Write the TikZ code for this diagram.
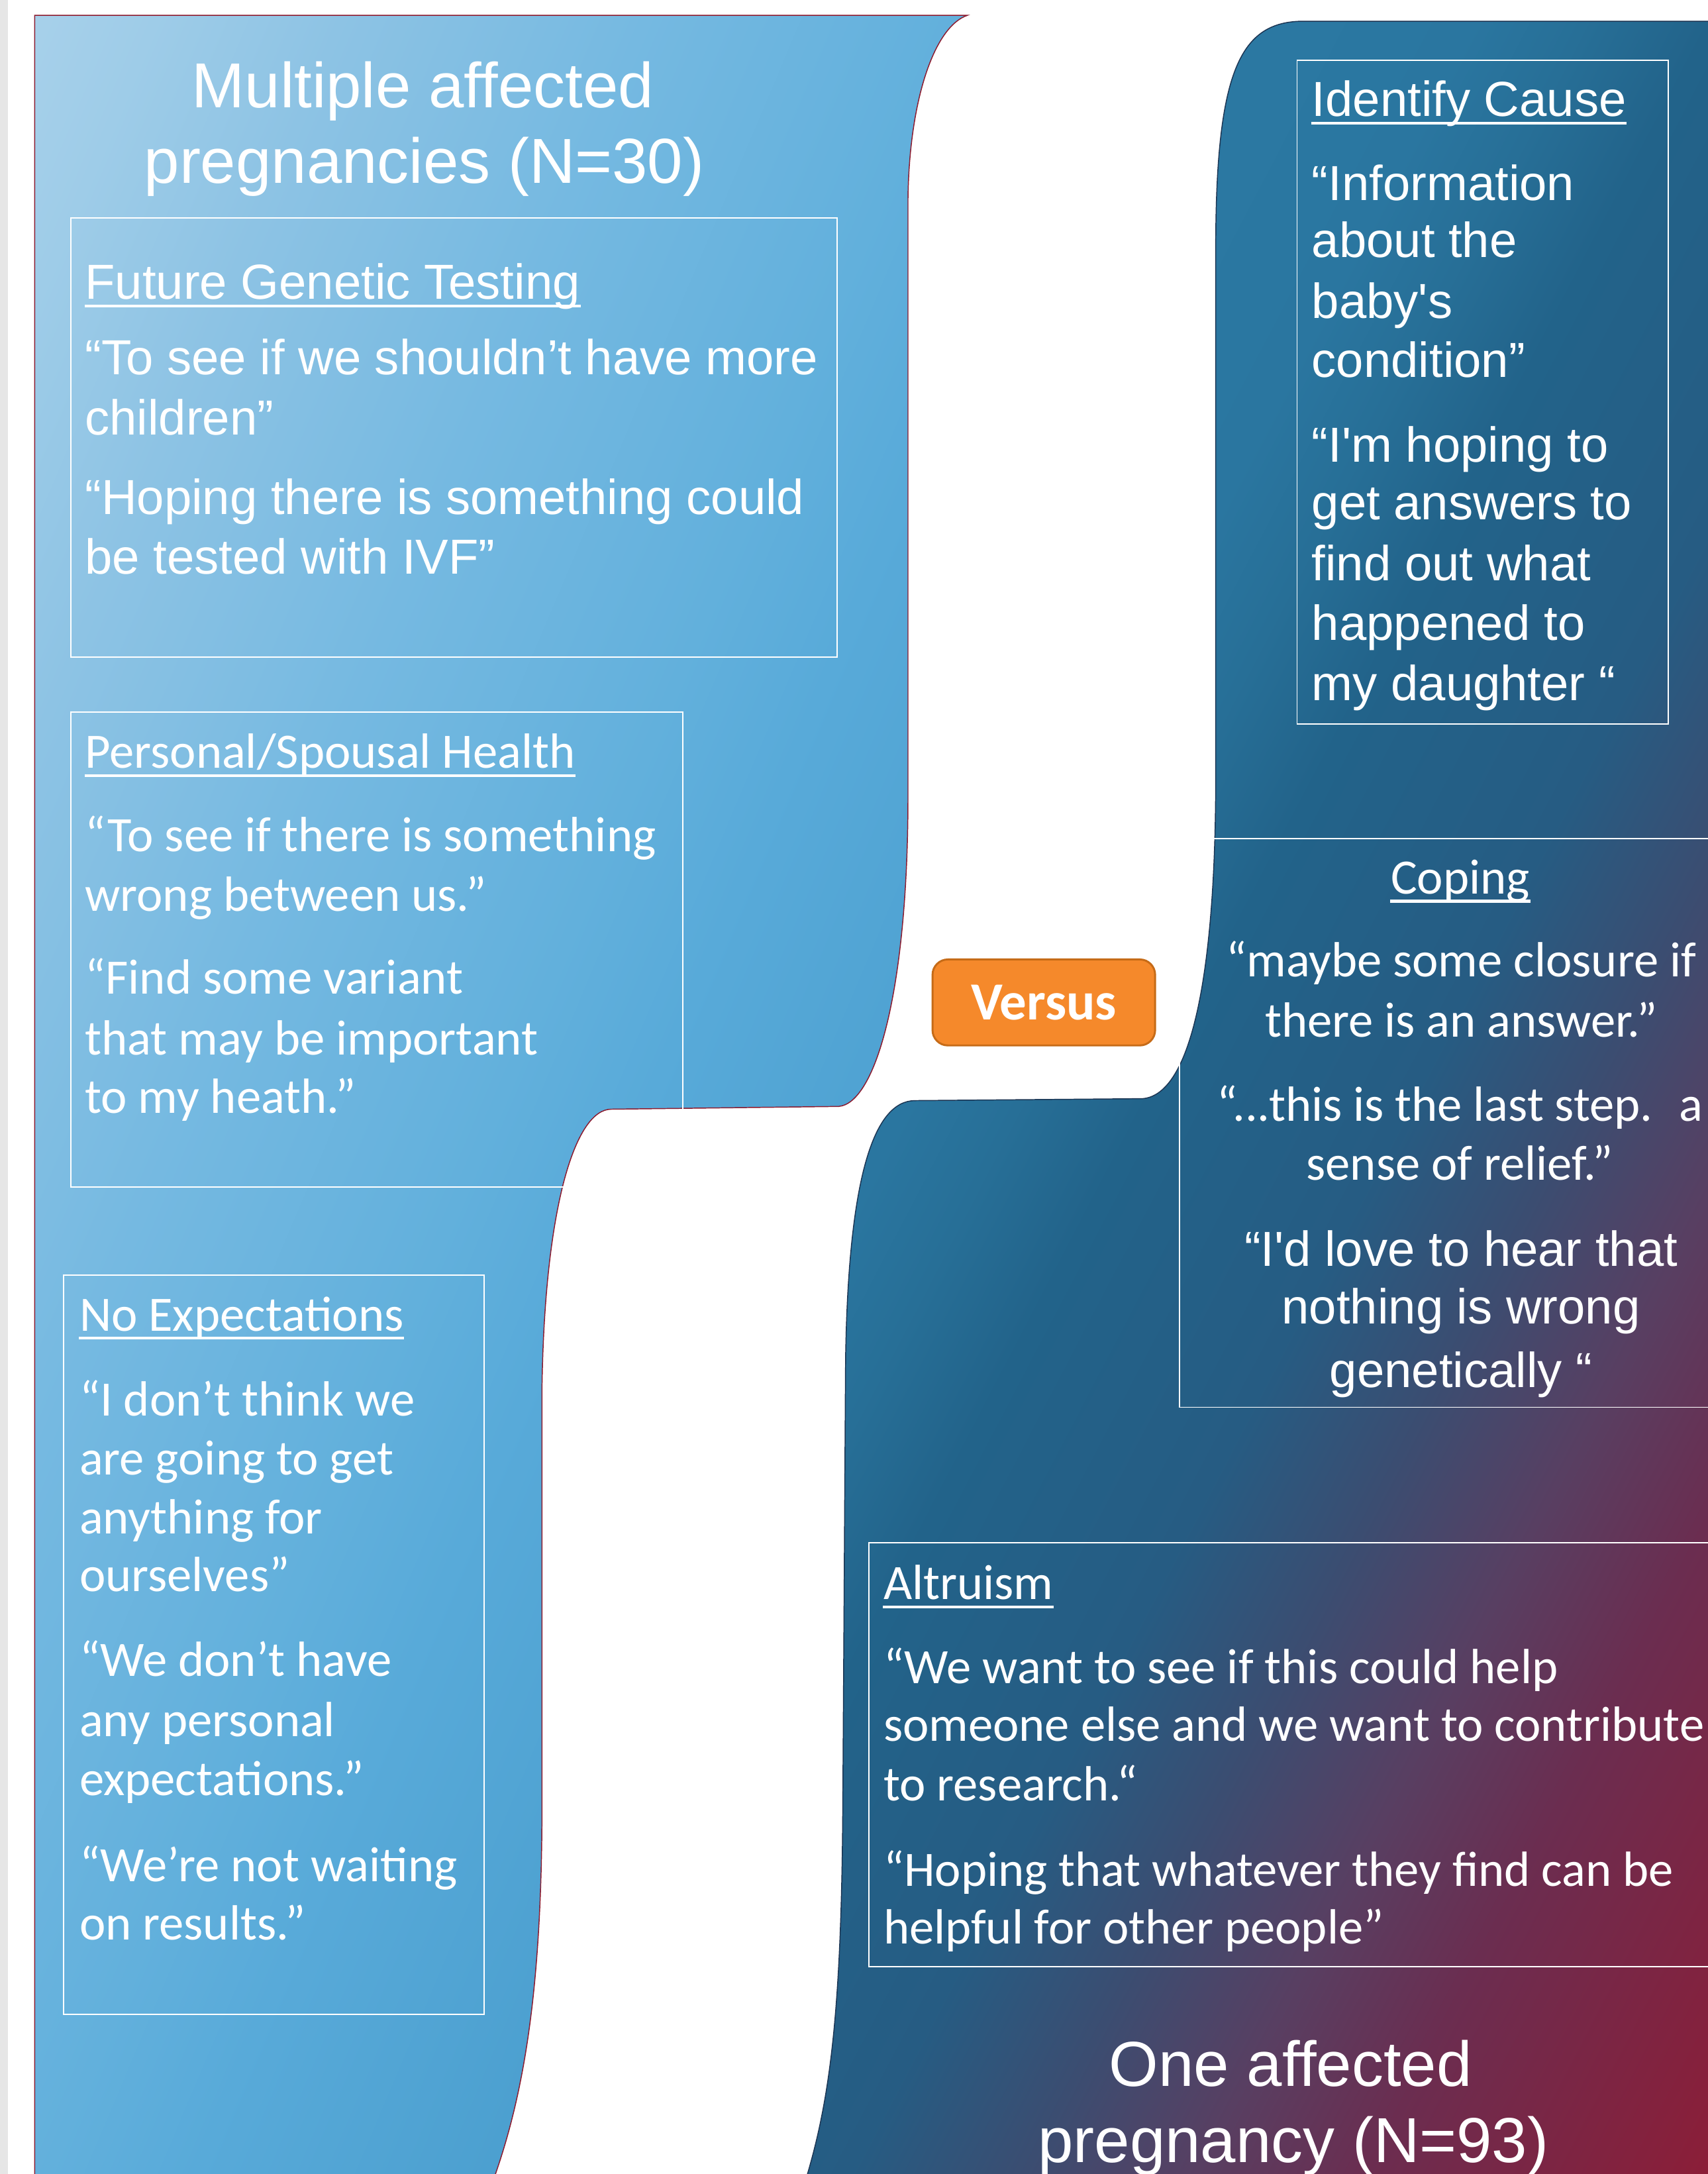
\documentclass[tikz,border=0pt]{standalone}
\usepackage{fontspec}
\setmainfont{Carlito}
\newfontfamily\arialfont{Liberation Sans}
\usetikzlibrary{positioning}

\definecolor{stripgray}{HTML}{E6E6E6}
\definecolor{leftedge}{HTML}{8B1A2E}
\definecolor{rightedge}{HTML}{1C3553}
\definecolor{versusfill}{HTML}{F5892B}
\definecolor{versusedge}{HTML}{C66B17}
\definecolor{lg0}{HTML}{AAD2EB}
\definecolor{lg1}{HTML}{9ECCE8}
\definecolor{lg2}{HTML}{8DC3E4}
\definecolor{lg3}{HTML}{75B9E1}
\definecolor{lg4}{HTML}{62B0DC}
\definecolor{lg5}{HTML}{58AAD9}
\definecolor{lg6}{HTML}{4B9FCF}
\definecolor{lg7}{HTML}{4090C2}
\definecolor{rg0}{HTML}{2B79A3}
\definecolor{rg1}{HTML}{2A76A0}
\definecolor{rg2}{HTML}{276F97}
\definecolor{rg3}{HTML}{22638A}
\definecolor{rg4}{HTML}{265C83}
\definecolor{rg5}{HTML}{3B4D71}
\definecolor{rg6}{HTML}{583F62}
\definecolor{rg7}{HTML}{6B2D50}
\definecolor{rg8}{HTML}{8B1E38}
\definecolor{rg9}{HTML}{8C1C36}

\pgfdeclarehorizontalshading{leftgrad}{100bp}{color(0bp)=(lg0); color(27bp)=(lg0); color(30.9bp)=(lg1); color(35.3bp)=(lg2); color(42.5bp)=(lg3); color(49.9bp)=(lg4); color(53.4bp)=(lg5); color(61bp)=(lg6); color(100bp)=(lg7)}
\pgfdeclarehorizontalshading{rightgrad}{100bp}{color(0bp)=(rg0); color(36bp)=(rg0); color(41.9bp)=(rg1); color(44.4bp)=(rg2); color(47.3bp)=(rg3); color(53.3bp)=(rg4); color(57.3bp)=(rg5); color(61.2bp)=(rg6); color(65.1bp)=(rg7); color(72.8bp)=(rg8); color(100bp)=(rg9)}

\tikzset{
  cal/.style={text=white, inner sep=0pt, font=\fontsize{20.3}{24}\selectfont},
  ari/.style={text=white, inner sep=0pt, font=\arialfont\fontsize{20.2}{24}\selectfont},
  bigtitle/.style={text=white, inner sep=0pt, font=\arialfont\fontsize{26.1}{31}\selectfont},
  quotebox/.style={draw=white, line width=0.5pt},
  uline/.style={white, line width=1.1pt},
  versus/.style={rectangle, rounded corners=6.3pt, fill=versusfill, draw=versusedge,
    line width=0.8pt, minimum width=91.4pt, minimum height=35.3pt, inner sep=0pt,
    text=white, font=\bfseries\fontsize{22}{26}\selectfont}
}

\def\leftoutline{(25,11) -- (698,11) .. controls (674,19) and (656,72) .. (655,143)
  -- (655,574) .. controls (655,717) and (631,796) .. (605,798)
  -- (441,800) .. controls (415,800) and (393,870) .. (391,1000)
  -- (391,1300) .. controls (391,1450) and (375,1530) .. (345,1600)
  -- (25,1600) -- cycle}
\def\rightoutline{(940.5,15.3) .. controls (895,15.3) and (877,50) .. (877,180)
  -- (877,560) .. controls (877,700) and (860,790) .. (824,792.4)
  -- (660,793.8) .. controls (630,794) and (612,850) .. (610,980)
  -- (608,1300) .. controls (607,1470) and (597,1530) .. (572,1600)
  -- (1240,1600) -- (1240,15.3) -- cycle}

\begin{document}
\begin{tikzpicture}[x=0.02cm, y=-0.02cm]
\useasboundingbox (0,0) rectangle (1232,1568);
\clip (0,0) rectangle (1232,1568);
\fill[white] (0,0) rectangle (1232,1568);
\fill[stripgray] (0,0) rectangle (5.5,1568);

% multiple affected side
\begin{scope}
  \clip \leftoutline;
  \begin{scope}[transform canvas={rotate around={-22.9:(361,800)}}]
    \shade[shading=leftgrad] (-339,-500) rectangle (1061,2100);
  \end{scope}
\end{scope}
\draw[leftedge, line width=0.4pt] \leftoutline;

% one affected side
\begin{scope}
  \clip \rightoutline;
  \begin{scope}[transform canvas={rotate around={-27.6:(906,807.6)}}]
    \shade[shading=rightgrad] (206,-492.4) rectangle (1606,2107.6);
  \end{scope}
\end{scope}
\draw[rightedge, line width=0.4pt] \rightoutline;

\draw[quotebox] (51,157.3) rectangle (604,474);
\draw[quotebox] (51,513.5) rectangle (492.7,856);
\draw[quotebox] (45.9,919.6) rectangle (349.4,1453);
\draw[quotebox] (935.7,43.6) rectangle (1203.4,522);
\draw[quotebox] (851,605) rectangle (1260,1015);
\draw[quotebox] (626.7,1112.6) rectangle (1260,1418.5);

\node[bigtitle, anchor=base] (mt1) at (305,77.5) {Multiple affected};
\node[bigtitle, anchor=base] (mt2) at (306,132) {pregnancies (N=30)};
\node[bigtitle, anchor=base] (ot1) at (931,1504.5) {One affected};
\node[bigtitle, anchor=base] (ot2) at (933,1559.5) {pregnancy (N=93)};

% future genetic testing
\node[ari, anchor=base west] (fg0) at (61,215.5) {Future Genetic Testing};
\node[ari, anchor=base west] (fg1) at (61,270) {“To see if we shouldn’t have more};
\node[ari, anchor=base west] (fg2) at (61,313.5) {children”};
\node[ari, anchor=base west] (fg3) at (61,371) {“Hoping there is something could};
\node[ari, anchor=base west] (fg4) at (61,414) {be tested with IVF”};
\draw[uline] ([yshift=-3pt]fg0.base west) -- ([yshift=-3pt]fg0.base east);

% personal/spousal health
\node[cal, anchor=base west] (ps0) at (61,554) {Personal/Spousal Health};
\node[cal, anchor=base west] (ps1) at (61,614) {“To see if there is something};
\node[cal, anchor=base west] (ps2) at (61,657) {wrong between us.”};
\node[cal, anchor=base west] (ps3) at (61,717) {“Find some variant};
\node[cal, anchor=base west] (ps4) at (61,761) {that may be important};
\node[cal, anchor=base west] (ps5) at (61,803) {to my heath.”};
\draw[uline] ([yshift=-3pt]ps0.base west) -- ([yshift=-3pt]ps0.base east);

% no expectations
\node[cal, anchor=base west] (ne0) at (57,960) {No Expectations};
\node[cal, anchor=base west] (ne1) at (57,1021) {“I don’t think we};
\node[cal, anchor=base west] (ne2) at (57,1063.5) {are going to get};
\node[cal, anchor=base west] (ne3) at (57,1106) {anything for};
\node[cal, anchor=base west] (ne4) at (57,1148) {ourselves”};
\node[cal, anchor=base west] (ne5) at (57,1209) {“We don’t have};
\node[cal, anchor=base west] (ne6) at (57,1252.5) {any personal};
\node[cal, anchor=base west] (ne7) at (57,1295) {expectations.”};
\node[cal, anchor=base west] (ne8) at (57,1357) {“We’re not waiting};
\node[cal, anchor=base west] (ne9) at (57,1399) {on results.”};
\draw[uline] ([yshift=-3pt]ne0.base west) -- ([yshift=-3pt]ne0.base east);

% identify cause
\node[ari, anchor=base west] (ic0) at (946,83.7) {Identify Cause};
\node[ari, anchor=base west] (ic1) at (946,144.5) {“Information};
\node[ari, anchor=base west] (ic2) at (946,185.5) {about the};
\node[ari, anchor=base west] (ic3) at (946,229.4) {baby's};
\node[ari, anchor=base west] (ic4) at (946,272) {condition”};
\node[ari, anchor=base west] (ic5) at (946,333) {“I'm hoping to};
\node[ari, anchor=base west] (ic6) at (946,375) {get answers to};
\node[ari, anchor=base west] (ic7) at (946,418.6) {find out what};
\node[ari, anchor=base west] (ic8) at (946,461.7) {happened to};
\node[ari, anchor=base west] (ic9) at (946,505.4) {my daughter “};
\draw[uline] ([yshift=-3pt]ic0.base west) -- ([yshift=-3pt]ic0.base east);

% coping
\node[cal, anchor=base] (cp0) at (1053.5,644.7) {Coping};
\node[cal, anchor=base] (cp1) at (1054,704.5) {“maybe some closure if};
\node[cal, anchor=base] (cp2) at (1054,748) {there is an answer.”};
\node[cal, anchor=base] (cp3) at (1053,808.6) {“...this is the last step.~ a};
\node[cal, anchor=base] (cp4) at (1053,851) {sense of relief.”};
\node[ari, anchor=base] (cp5) at (1054,913) {“I'd love to hear that};
\node[ari, anchor=base] (cp6) at (1054,955) {nothing is wrong};
\node[ari, anchor=base] (cp7) at (1054,1000.5) {genetically “};
\draw[uline] ([yshift=-3pt]cp0.base west) -- ([yshift=-3pt]cp0.base east);

% altruism
\node[cal, anchor=base west] (al0) at (637,1153.6) {Altruism};
\node[cal, anchor=base west] (al1) at (637,1214.4) {“We want to see if this could help};
\node[cal, anchor=base west] (al2) at (637,1256) {someone else and we want to contribute};
\node[cal, anchor=base west] (al3) at (637,1298.6) {to research.“};
\node[cal, anchor=base west] (al4) at (637,1360.5) {“Hoping that whatever they find can be};
\node[cal, anchor=base west] (al5) at (637,1402) {helpful for other people”};
\draw[uline] ([yshift=-3pt]al0.base west) -- ([yshift=-3pt]al0.base east);

\node[versus] (vs) at (753,723) {Versus};
\end{tikzpicture}
\end{document}
